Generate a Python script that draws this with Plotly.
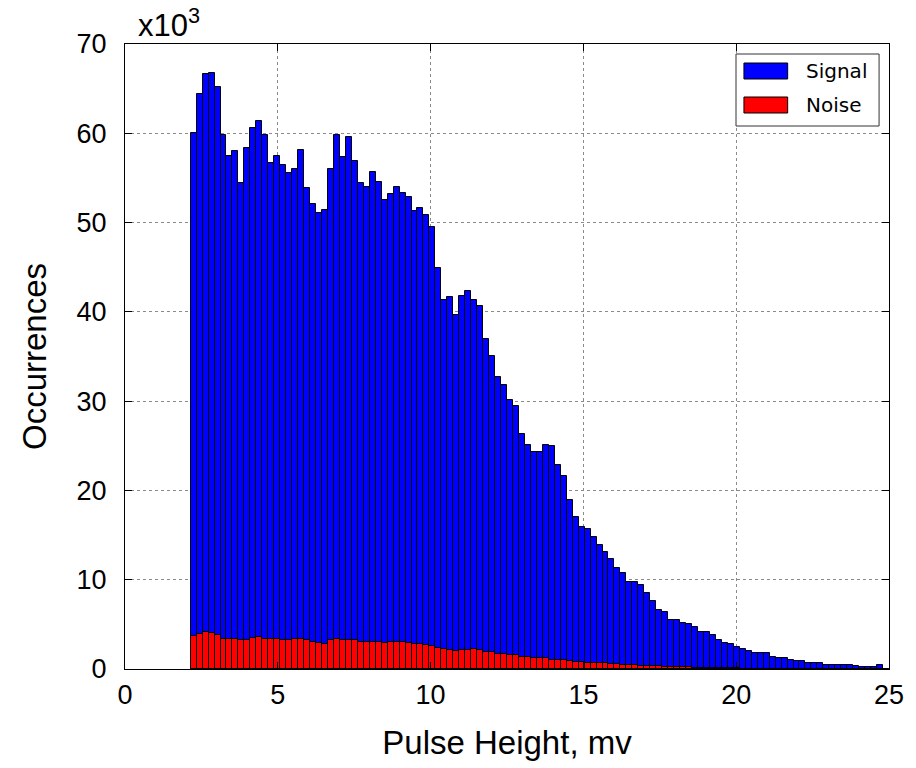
import numpy as np
import plotly.graph_objects as go

# Histogram definition: 128 bins spanning 0..25 mV; first non-empty bin index 11
n_bins = 128
x_min, x_max = 0.0, 25.0
first_bin = 11

# Occurrences (in thousands) per bin, starting at bin 11
signal = [
    60.0, 64.4, 66.6, 66.8, 65.2, 59.8, 57.5, 58.0, 54.4, 58.3,
    60.6, 61.4, 59.8, 56.7, 57.5, 56.5, 55.6, 56.0, 58.1, 53.9,
    52.1, 51.1, 51.4, 56.0, 59.8, 57.4, 59.6, 56.9, 54.4, 54.0,
    55.7, 54.6, 52.5, 53.2, 54.0, 53.3, 52.9, 51.3, 51.6, 50.8,
    49.5, 44.9, 41.3, 41.7, 39.6, 41.8, 42.3, 41.3, 40.7, 37.0,
    35.1, 32.7, 31.8, 30.1, 29.5, 26.3, 25.1, 24.3, 24.3, 25.1,
    25.0, 22.9, 21.6, 18.9, 17.0, 15.9, 15.7, 14.8, 13.9, 13.1,
    12.3, 11.3, 10.8, 9.8, 9.7, 9.4, 8.5, 7.6, 6.6, 6.4,
    5.5, 5.5, 5.2, 5.0, 4.7, 4.2, 4.2, 3.8, 3.3, 2.9,
    2.8, 2.5, 2.2, 2.0, 1.8, 1.8, 1.8, 1.4, 1.2, 1.2,
    1.0, 0.9, 0.9, 0.7, 0.65, 0.65, 0.5, 0.5, 0.4, 0.4,
    0.4, 0.35, 0.27, 0.27, 0.27, 0.5, 0.0,
]
noise = [
    3.66, 3.9, 4.1, 4.0, 3.8, 3.4, 3.35, 3.35, 3.2, 3.25,
    3.45, 3.55, 3.4, 3.35, 3.35, 3.25, 3.25, 3.35, 3.35, 3.2,
    3.06, 2.95, 2.77, 3.2, 3.35, 3.3, 3.3, 3.3, 3.0, 3.0,
    3.06, 3.06, 2.9, 3.0, 3.0, 3.0, 2.9, 2.77, 2.77, 2.65,
    2.54, 2.36, 2.25, 2.13, 2.06, 2.15, 2.17, 2.25, 2.17, 1.9,
    1.9, 1.7, 1.7, 1.58, 1.58, 1.35, 1.35, 1.2, 1.25, 1.25,
    1.05, 1.05, 0.97, 0.86, 0.75, 0.75, 0.68, 0.65, 0.65, 0.65,
    0.53, 0.53, 0.46, 0.46, 0.42, 0.38, 0.35, 0.3, 0.3, 0.27,
    0.25, 0.22, 0.2, 0.18, 0.16, 0.14, 0.12, 0.1, 0.09, 0.08,
    0.07, 0.06, 0.05, 0.05, 0.04, 0.03, 0.03, 0.03, 0.02, 0.02,
    0.02, 0.02, 0.02, 0.01, 0.01, 0.01, 0.01, 0.01, 0.01, 0.01,
    0.01, 0.01, 0.0, 0.0, 0.0, 0.0, 0.0,
]

x_tick_vals = [0, 5, 10, 15, 20, 25]
y_tick_vals = [0, 10, 20, 30, 40, 50, 60, 70]
series_names = ["Signal", "Noise"]
series_colors = ["#0000ff", "#ff0000"]

bin_w = (x_max - x_min) / n_bins
idx = np.arange(first_bin, first_bin + len(signal))
centers = x_min + (idx + 0.5) * bin_w

fig = go.Figure()
for name, vals, col in zip(series_names, [signal, noise], series_colors):
    fig.add_trace(go.Bar(
        x=centers, y=vals, width=bin_w, name=name,
        marker=dict(color=col, line=dict(color="black", width=1)),
        showlegend=False,
    ))

font_main = "Liberation Sans, Arial, sans-serif"
axis_common = dict(
    showline=True, linecolor="black", linewidth=1, mirror="allticks",
    ticks="inside", ticklen=7, tickcolor="black",
    showgrid=True, gridcolor="#8a8a8a", griddash="dot", gridwidth=1,
    zeroline=False, layer="above traces",
    tickfont=dict(family=font_main, size=27, color="black"),
)

fig.update_layout(
    width=916, height=768,
    margin=dict(l=125, r=22, t=44, b=99),
    paper_bgcolor="white", plot_bgcolor="white",
    barmode="overlay", bargap=0,
    xaxis=dict(range=[x_min, x_max], tickvals=x_tick_vals, ticklabelstandoff=2,
               title=dict(text="Pulse Height, mv", font=dict(family=font_main, size=33, color="black"), standoff=21),
               **axis_common),
    yaxis=dict(range=[0, 70], tickvals=y_tick_vals, ticklabelstandoff=12,
               title=dict(text="Occurrences", font=dict(family=font_main, size=33, color="black"), standoff=20),
               **axis_common),
)

# exponent label
fig.add_annotation(text="x10<sup>3</sup>", xref="paper", yref="paper", x=0.014, y=1.0,
                   xanchor="left", yanchor="bottom", showarrow=False, yshift=-1,
                   font=dict(family=font_main, size=31, color="black"))

# legend drawn manually (wide patches like the reference)
def px_x(p):
    return (p - 125) / 769.0

def px_y(p):
    return (669 - p) / 625.0

fig.add_shape(type="rect", xref="paper", yref="paper",
              x0=px_x(740), x1=px_x(884), y0=px_y(126), y1=px_y(54),
              line=dict(color="#333333", width=1), fillcolor="white", layer="above")
for i, (name, col) in enumerate(zip(series_names, series_colors)):
    top = 63 + i * 34
    fig.add_shape(type="rect", xref="paper", yref="paper",
                  x0=px_x(748), x1=px_x(792), y0=px_y(top + 16), y1=px_y(top),
                  line=dict(color="black", width=1), fillcolor=col, layer="above")
    fig.add_annotation(text=name, xref="paper", yref="paper",
                       x=px_x(808), y=px_y(top + 8), xanchor="left", yanchor="middle",
                       showarrow=False, font=dict(family="DejaVu Sans", size=20, color="black"))

fig.write_html("out.html")
